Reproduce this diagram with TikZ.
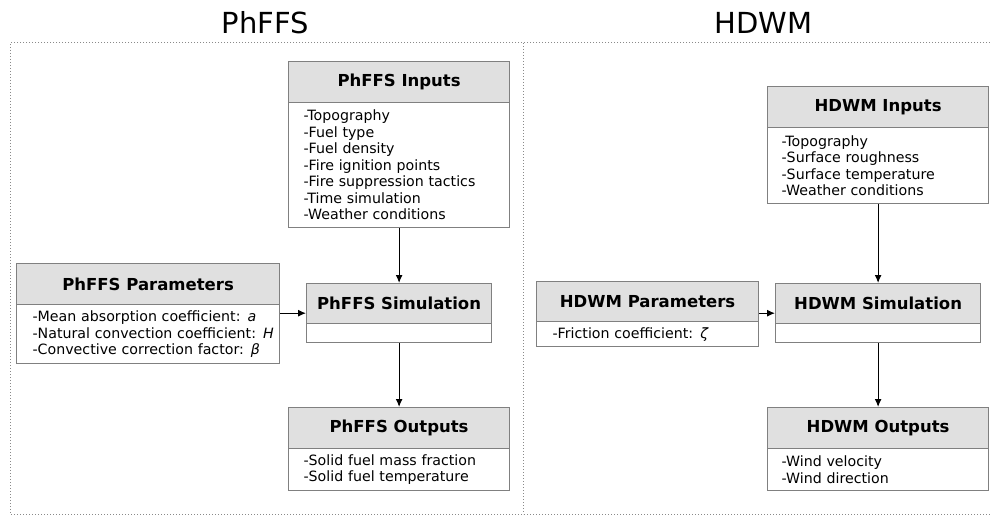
\documentclass[tikz,border=0pt]{standalone}
\usepackage{fontspec}
\setmainfont{DejaVu Sans}
\usetikzlibrary{
	shapes,
	calc,
	arrows.meta}

\definecolor{boxline}{HTML}{808080}
\definecolor{headfill}{HTML}{E0E0E0}
\definecolor{frameline}{HTML}{8A8A8A}

\begin{document}
\begin{tikzpicture}[x=1pt,y=-1pt,every text node part/.style={align=left}]
  \tikzstyle{head}=[draw=boxline,fill=headfill,line width=1.2pt,
    anchor=north west,inner sep=0pt,font=\bfseries\fontsize{16.5}{19}\selectfont]
  \tikzstyle{body}=[draw=boxline,fill=white,line width=1.2pt,
    anchor=north west,inner xsep=15pt,inner ysep=0pt,
    font=\fontsize{14.2}{16.5}\selectfont]
  \tikzstyle{flow}=[-{Latex[length=8pt,width=7pt]},line width=1.1pt]
  \tikzstyle{frame}=[frameline,line width=1pt,dash pattern=on 1pt off 2pt]

  \useasboundingbox (0,0) rectangle (990,516);
  \draw[frame] (990,43) -- (10,43) -- (10,514) -- (990,514);
  \draw[frame] (523,43) -- (523,514);

  \node [inner sep=0pt] (phtitle) at (265.5,22.5) {\fontsize{29}{34}\selectfont PhFFS};
  \node [inner sep=0pt] (hdtitle) at (763.5,22.5) {\fontsize{29}{34}\selectfont HDWM};

  \node [head,minimum width=221pt,minimum height=41pt] (phin) at (288,61) {PhFFS Inputs};
  \node [body,text width=191pt,minimum height=125pt] (phinbody) at (288,102) {
    -Topography\\
    -Fuel type\\
    -Fuel density\\
    -Fire ignition points\\
    -Fire suppression tactics\\
    -Time simulation\\
    -Weather conditions
  };
  \node [head,minimum width=263pt,minimum height=41pt] (phpar) at (16,263) {PhFFS Parameters};
  \node [body,inner xsep=16pt,text width=231pt,minimum height=59pt] (phparbody) at (16,304) {
    \mbox{-Mean absorption coefficient: \textit{a}}\\
    \mbox{-Natural convection coefficient: \textit{H}}\\
    \mbox{-Convective correction factor: \textit{β}}
  };
  \node [head,minimum width=185pt,minimum height=40pt] (phsim) at (306,283) {PhFFS Simulation};
  \node [body,text width=155pt,minimum height=19pt] (phsimbody) at (306,323) {};
  \node [head,minimum width=221pt,minimum height=41pt] (phout) at (288,407) {PhFFS Outputs};
  \node [body,text width=191pt,minimum height=42pt] (phoutbody) at (288,448) {
    -Solid fuel mass fraction\\
    -Solid fuel temperature
  };

  \node [head,minimum width=221pt,minimum height=41pt] (hdin) at (767,86) {HDWM Inputs};
  \node [body,inner xsep=14pt,text width=193pt,minimum height=76pt] (hdinbody) at (767,127) {
    -Topography\\
    -Surface roughness\\
    -Surface temperature\\
    -Weather conditions
  };
  \node [head,minimum width=222pt,minimum height=40pt] (hdpar) at (536,281) {HDWM Parameters};
  \node [body,inner xsep=16pt,text width=190pt,minimum height=25pt] (hdparbody) at (536,321) {
    -Friction coefficient: \textit{ζ}
  };
  \node [head,minimum width=205pt,minimum height=40pt] (hdsim) at (775,283) {HDWM Simulation};
  \node [body,text width=175pt,minimum height=19pt] (hdsimbody) at (775,323) {};
  \node [head,minimum width=221pt,minimum height=41pt] (hdout) at (767,407) {HDWM Outputs};
  \node [body,inner xsep=14pt,text width=193pt,minimum height=42pt] (hdoutbody) at (767,448) {
    -Wind velocity\\
    -Wind direction
  };

  \coordinate (phjoin) at ([yshift=11pt]phsim.south west);
  \coordinate (hdjoin) at ([yshift=11pt]hdsim.south west);
  \draw[flow] (phinbody.south) -- (phsim.north);
  \draw[flow] (phsimbody.south) -- (phout.north);
  \draw[flow] (phjoin -| phparbody.east) -- (phjoin);
  \draw[flow] (hdinbody.south) -- (hdsim.north);
  \draw[flow] (hdsimbody.south) -- (hdout.north);
  \draw[flow] (hdjoin -| hdparbody.east) -- (hdjoin);
\end{tikzpicture}
\end{document}
